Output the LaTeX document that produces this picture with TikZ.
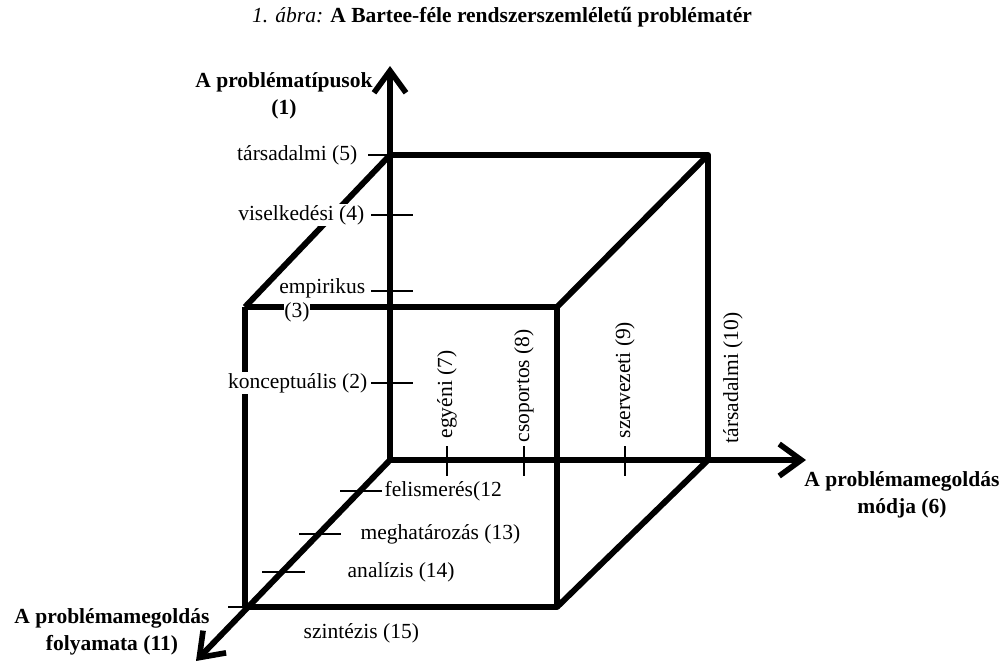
\documentclass[tikz,border=0pt]{standalone}
\usepackage{fontspec}
\setmainfont{Liberation Serif}
\usetikzlibrary{arrows.meta}

\begin{document}
\begin{tikzpicture}[
		x=0.025cm, y=-0.025cm,
		every node/.style={font=\fontsize{15.3}{18}\selectfont, inner sep=1pt},
		edge/.style={line width=4.2pt, line join=round},
		axis/.style={line width=4.2pt, -{Straight Barb[length=5.5mm, width=8mm, line width=4pt]}},
		tick/.style={line width=0.9pt},
		axlabel/.style={font=\fontsize{15.3}{19}\selectfont\bfseries, align=center},
		vlabel/.style={anchor=east, fill=white},
		hlabel/.style={anchor=west, rotate=90}
	]
  \useasboundingbox (0,0) rectangle (1001,666);

  % corners of the cube
  \coordinate (o) at (390, 460);
  \coordinate (b1) at (390, 155);
  \coordinate (b2) at (708, 155);
  \coordinate (b3) at (708, 460);
  \coordinate (f0) at (245, 607);
  \coordinate (f1) at (245, 307);
  \coordinate (f2) at (557, 307);
  \coordinate (f3) at (557, 607);
  \coordinate (ytip) at (390, 66);
  \coordinate (xtip) at (806, 460);
  \coordinate (ztip) at (196, 661);

  \node (title) at (502, 17) {\textit{1. ábra:} \textbf{A Bartee-féle rendszerszemléletű problématér}};

  % cube
  \draw[edge] (b1) -- (b2) -- (b3);
  \draw[edge] (b1) -- (f1);
  \draw[edge] (b2) -- (f2);
  \draw[edge] (b3) -- (f3);
  \draw[edge] (f1) -- (f2) -- (f3) -- (f0) -- (f1);

  % axes
  \draw[axis] (o) -- (ytip);
  \draw[axis] (o) -- (xtip);
  \draw[axis] (o) -- (ztip);

  \node (ylab) [axlabel] at (284, 96) {A problématípusok\\(1)};
  \node (xlab) [axlabel] at (902, 495) {A problémamegoldás\\módja (6)};
  \node (zlab) [axlabel] at (112, 632) {A problémamegoldás\\folyamata (11)};

  % problem types
  \draw[tick] (368, 155) -- (390, 155);
  \draw[tick] (371, 215) -- (413, 215);
  \draw[tick] (371, 291) -- (413, 291);
  \draw[tick] (371, 383) -- (413, 383);
  \node (y5) [vlabel, fill=none] at (359, 155) {társadalmi (5)};
  \node (y4) [vlabel] at (366, 215) {viselkedési (4)};
  \node (y3) [vlabel, fill=none] at (367, 288) {empirikus};
  \node (y3b) [fill=white, inner sep=0pt] at (297, 312) {(3)};
  \node (y2) [vlabel] at (369, 383) {konceptuális (2)};

  % ways of solving
  \draw[tick] (447, 446) -- (447, 476);
  \draw[tick] (524, 446) -- (524, 476);
  \draw[tick] (625, 446) -- (625, 476);
  \node (x7) [hlabel] at (447, 440) {egyéni (7)};
  \node (x8) [hlabel] at (524, 444) {csoportos (8)};
  \node (x9) [hlabel] at (625, 440) {szervezeti (9)};
  \node (x10) [hlabel] at (733, 445) {társadalmi (10)};

  % process
  \draw[tick] (340, 491) -- (382, 491);
  \draw[tick] (299, 534) -- (341, 534);
  \draw[tick] (262, 572) -- (305, 572);
  \draw[tick] (228, 607) -- (250, 607);
  \node (z12) [anchor=west] at (383, 491) {felismerés(12};
  \node (z13) [anchor=west] at (359, 534) {meghatározás (13)};
  \node (z14) [anchor=west] at (346, 572) {analízis (14)};
  \node (z15) [anchor=west] at (302, 633) {szintézis (15)};
\end{tikzpicture}
\end{document}
